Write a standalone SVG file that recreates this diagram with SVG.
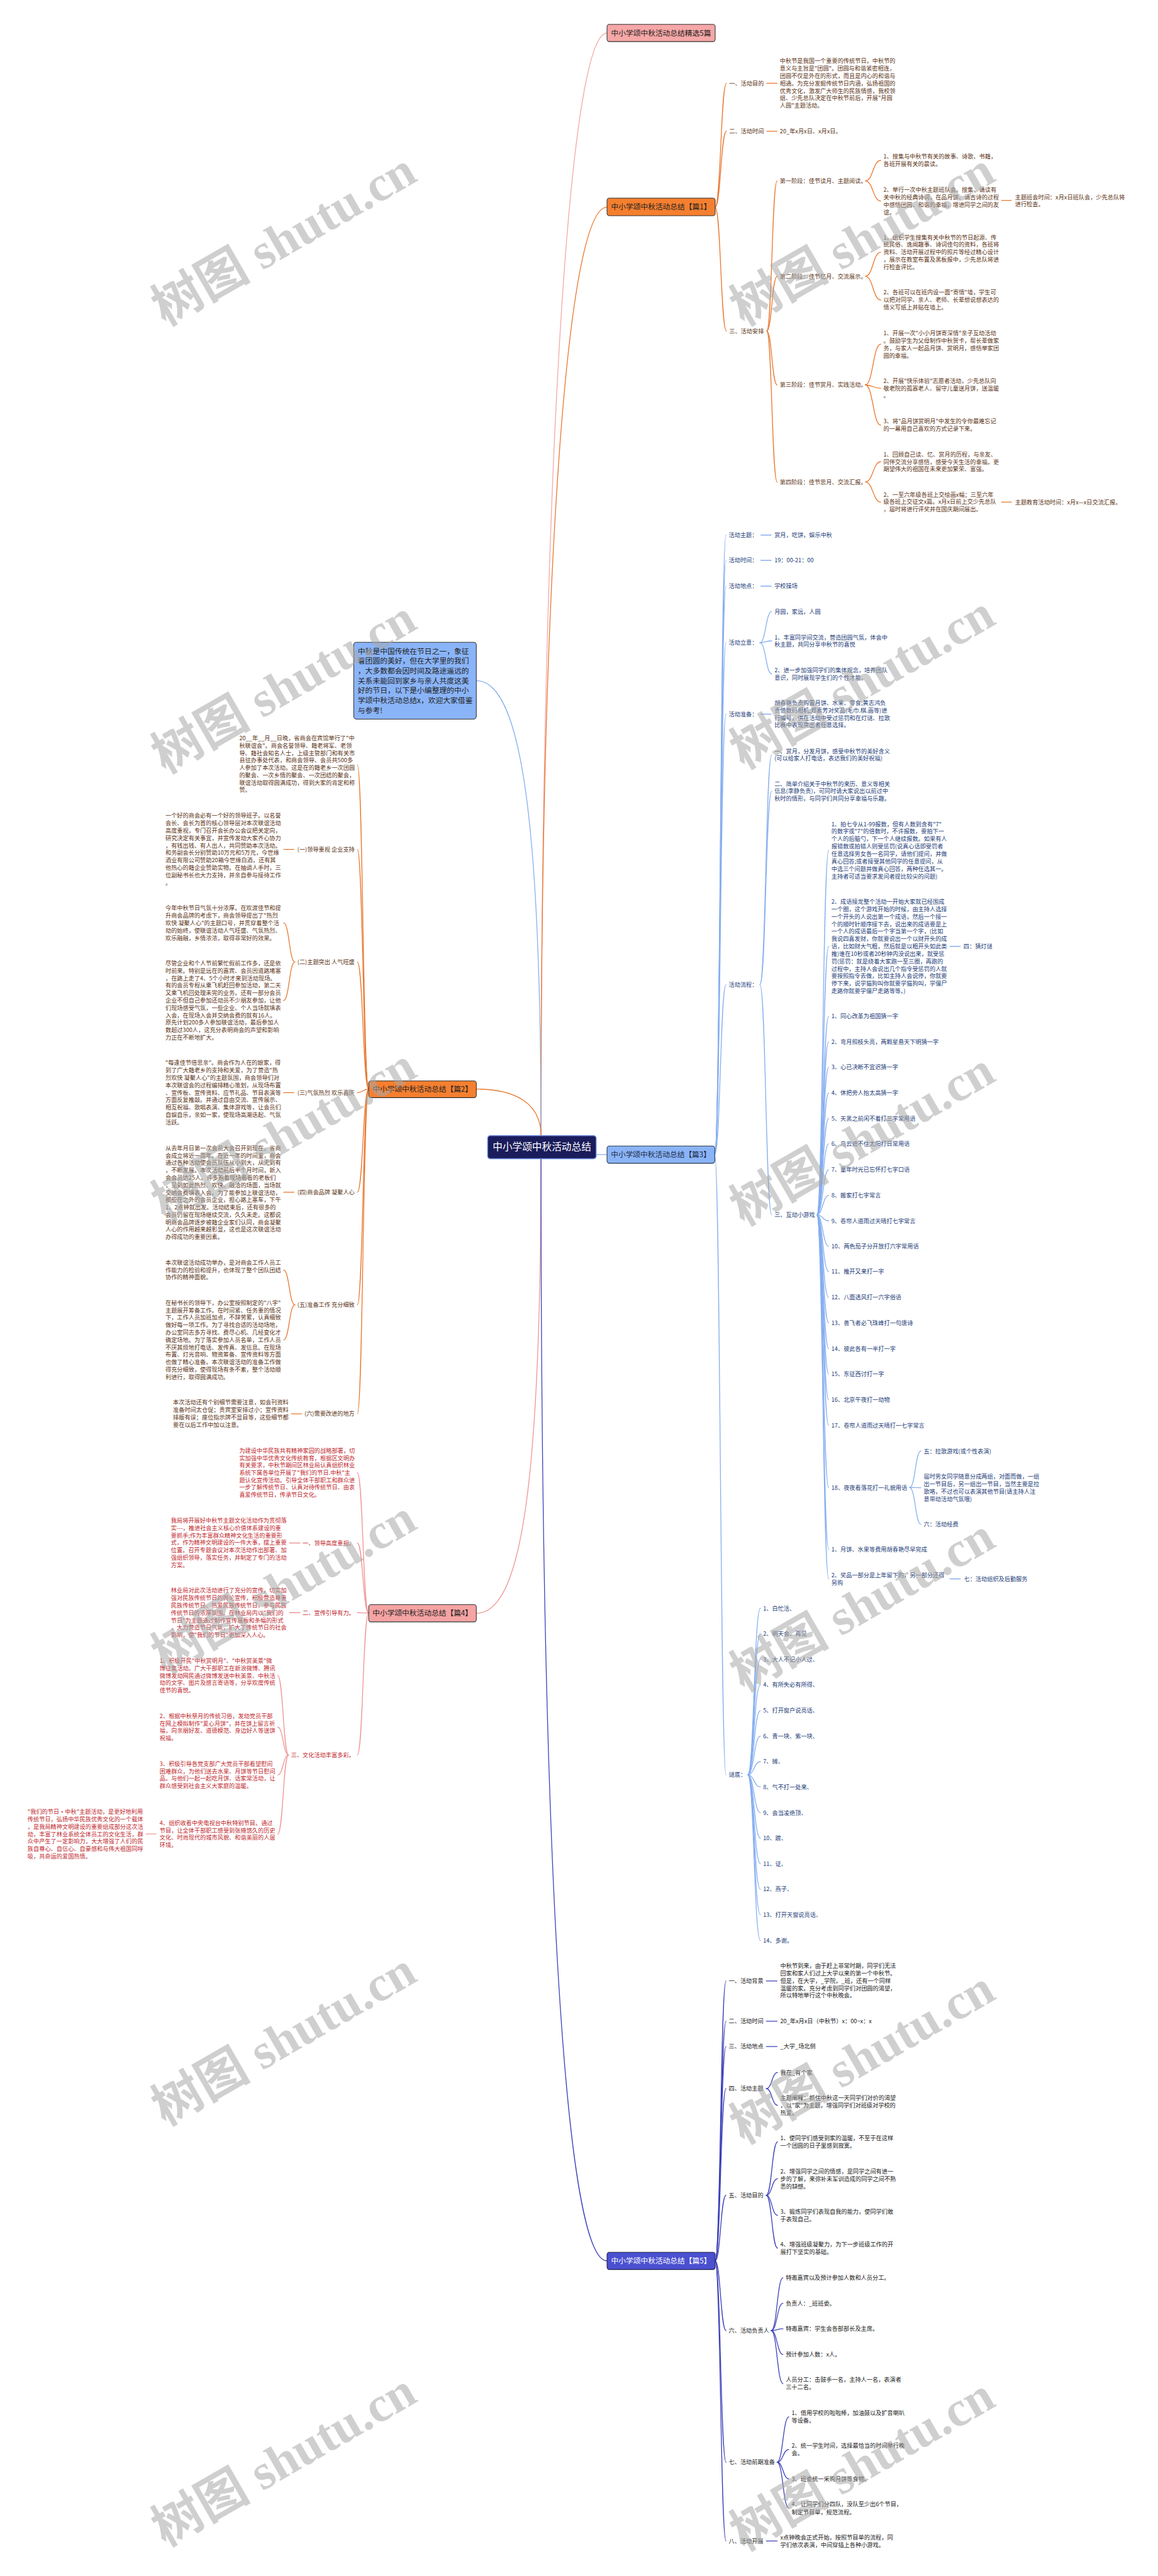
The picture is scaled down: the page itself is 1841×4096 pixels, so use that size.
<svg xmlns="http://www.w3.org/2000/svg" width="1841" height="4096" viewBox="0 0 1841 4096">
<style>
.t{font-family:"Noto Sans CJK SC","Liberation Sans",sans-serif;font-size:12.8px}
.c1{fill:#5c3416}.c3{fill:#1d3d78}.c4{fill:#c0282d}.c5{fill:#222}
.e{text-anchor:end}
.n{font-family:"Noto Sans CJK SC","Liberation Sans",sans-serif;font-size:16.3px;text-anchor:middle;fill:#222}
.w{fill:#fff}
path{fill:none;stroke-width:1.8;stroke-linecap:round}
.lo{stroke:#e8772e}.lb{stroke:#86aef0}.lp{stroke:#f19393}.ln{stroke:#3c40b8}.lk{stroke:#f4a7a7}
.wm{font-family:"Liberation Serif","Noto Sans CJK SC",serif;font-size:110px;font-weight:bold;fill:#a8a8a8;fill-opacity:0.55;text-anchor:middle}
</style>
<rect width="1841" height="4096" fill="#fff"/>
<g transform="scale(0.71914)">
<g id="connectors">
<path class="lk" stroke-width="2.6" d="M1196 2511 C1196 1200 1250 73 1342 73"/>
<path class="lo" stroke-width="2.6" d="M1196 2511 C1196 1300 1250 458 1342 458"/>
<path class="lb" stroke-width="2.6" d="M1196 2511 C1196 1800 1150 1505 1053 1505"/>
<path class="lo" stroke-width="2.6" d="M1196 2511 C1196 2440 1140 2408 1053 2408"/>
<path class="lb" stroke-width="4" d="M1318 2553 L1342 2553"/>
<path class="lp" stroke-width="2.6" d="M1196 2562 C1196 3300 1150 3567 1053 3567"/>
<path class="ln" stroke-width="2.6" d="M1196 2562 C1196 4300 1260 4999 1342 4999"/>
<!-- pian1 -->
<path class="lo" d="M1581 458 C1593.5 458 1593.5 184 1606 184"/>
<path class="lo" d="M1581 458 C1593.5 458 1593.5 290 1606 290"/>
<path class="lo" d="M1581 458 C1593.5 458 1593.5 732 1606 732"/>
<path class="lo" d="M1695 184 H1718 M1695 290 H1718"/>
<path class="lo" d="M1695 732 C1706.5 732 1706.5 400 1718 400"/>
<path class="lo" d="M1695 732 C1706.5 732 1706.5 611 1718 611"/>
<path class="lo" d="M1695 732 C1706.5 732 1706.5 851 1718 851"/>
<path class="lo" d="M1695 732 C1706.5 732 1706.5 1065.6 1718 1065.6"/>
<path class="lo" d="M1913 400 C1930 400 1930 354.6 1947 354.6"/>
<path class="lo" d="M1913 400 C1930 400 1930 444.4 1947 444.4"/>
<path class="lo" d="M1913 611 C1930 611 1930 557.7 1947 557.7"/>
<path class="lo" d="M1913 611 C1930 611 1930 663.3 1947 663.3"/>
<path class="lo" d="M1913 851 C1930 851 1930 761 1947 761"/>
<path class="lo" d="M1913 851 C1930 851 1930 858.6 1947 858.6"/>
<path class="lo" d="M1913 851 C1930 851 1930 940 1947 940"/>
<path class="lo" d="M1913 1065.6 C1930 1065.6 1930 1021 1947 1021"/>
<path class="lo" d="M1913 1065.6 C1930 1065.6 1930 1110.3 1947 1110.3"/>
<path class="lo" d="M2214 443 H2236 M2214 1110.3 H2236"/>
<!-- pian3 -->
<path class="lb" d="M1580 2553 C1592.5 2553 1592.5 1183 1605 1183"/>
<path class="lb" d="M1580 2553 C1592.5 2553 1592.5 1239 1605 1239"/>
<path class="lb" d="M1580 2553 C1592.5 2553 1592.5 1296 1605 1296"/>
<path class="lb" d="M1580 2553 C1592.5 2553 1592.5 1421 1605 1421"/>
<path class="lb" d="M1580 2553 C1592.5 2553 1592.5 1579 1605 1579"/>
<path class="lb" d="M1580 2553 C1592.5 2553 1592.5 2177 1605 2177"/>
<path class="lb" d="M1580 2553 C1592.5 2553 1592.5 3924 1605 3924"/>
<path class="lb" d="M1682 1183 H1705 M1682 1239 H1705 M1682 1296 H1705 M1682 1579 H1705"/>
<path class="lb" d="M1680 1421 C1693 1421 1693 1352 1706 1352"/>
<path class="lb" d="M1680 1421 C1693 1421 1693 1417 1706 1417"/>
<path class="lb" d="M1680 1421 C1693 1421 1693 1490 1706 1490"/>
<path class="lb" d="M1680 2177 C1693 2177 1693 1669 1706 1669"/>
<path class="lb" d="M1680 2177 C1693 2177 1693 1749.5 1706 1749.5"/>
<path class="lb" d="M1680 2177 C1693 2177 1693 2686 1706 2686"/>
<path class="lb" d="M1806 2686 C1819 2686 1819 1880 1832 1880"/>
<path class="lb" d="M1806 2686 C1819 2686 1819 2092.4 1832 2092.4"/>
<path class="lb" d="M1806 2686 C1819 2686 1819 2247.4 1832 2247.4"/>
<path class="lb" d="M1806 2686 C1819 2686 1819 2303.6 1832 2303.6"/>
<path class="lb" d="M1806 2686 C1819 2686 1819 2359.8 1832 2359.8"/>
<path class="lb" d="M1806 2686 C1819 2686 1819 2416.8 1832 2416.8"/>
<path class="lb" d="M1806 2686 C1819 2686 1819 2473 1832 2473"/>
<path class="lb" d="M1806 2686 C1819 2686 1819 2529.2 1832 2529.2"/>
<path class="lb" d="M1806 2686 C1819 2686 1819 2586.2 1832 2586.2"/>
<path class="lb" d="M1806 2686 C1819 2686 1819 2643.2 1832 2643.2"/>
<path class="lb" d="M1806 2686 C1819 2686 1819 2699.4 1832 2699.4"/>
<path class="lb" d="M1806 2686 C1819 2686 1819 2755.6 1832 2755.6"/>
<path class="lb" d="M1806 2686 C1819 2686 1819 2811.8 1832 2811.8"/>
<path class="lb" d="M1806 2686 C1819 2686 1819 2868.8 1832 2868.8"/>
<path class="lb" d="M1806 2686 C1819 2686 1819 2925 1832 2925"/>
<path class="lb" d="M1806 2686 C1819 2686 1819 2982 1832 2982"/>
<path class="lb" d="M1806 2686 C1819 2686 1819 3038.2 1832 3038.2"/>
<path class="lb" d="M1806 2686 C1819 2686 1819 3095.2 1832 3095.2"/>
<path class="lb" d="M1806 2686 C1819 2686 1819 3151.4 1832 3151.4"/>
<path class="lb" d="M1806 2686 C1819 2686 1819 3289 1832 3289"/>
<path class="lb" d="M1806 2686 C1819 2686 1819 3426.6 1832 3426.6"/>
<path class="lb" d="M1806 2686 C1819 2686 1819 3491 1832 3491"/>
<path class="lb" d="M2100 2092.4 H2123 M2100 3491 H2123"/>
<path class="lb" d="M2011 3289 C2023.5 3289 2023.5 3208.3 2036 3208.3"/>
<path class="lb" d="M2011 3289 C2023.5 3289 2023.5 3289.4 2036 3289.4"/>
<path class="lb" d="M2011 3289 C2023.5 3289 2023.5 3370.4 2036 3370.4"/>
<path class="lb" d="M1653 3924 C1667 3924 1667 3556 1681 3556"/>
<path class="lb" d="M1653 3924 C1667 3924 1667 3612.3 1681 3612.3"/>
<path class="lb" d="M1653 3924 C1667 3924 1667 3669.2 1681 3669.2"/>
<path class="lb" d="M1653 3924 C1667 3924 1667 3725.5 1681 3725.5"/>
<path class="lb" d="M1653 3924 C1667 3924 1667 3782.4 1681 3782.4"/>
<path class="lb" d="M1653 3924 C1667 3924 1667 3838.6 1681 3838.6"/>
<path class="lb" d="M1653 3924 C1667 3924 1667 3894.9 1681 3894.9"/>
<path class="lb" d="M1653 3924 C1667 3924 1667 3951.1 1681 3951.1"/>
<path class="lb" d="M1653 3924 C1667 3924 1667 4008 1681 4008"/>
<path class="lb" d="M1653 3924 C1667 3924 1667 4064.3 1681 4064.3"/>
<path class="lb" d="M1653 3924 C1667 3924 1667 4120.5 1681 4120.5"/>
<path class="lb" d="M1653 3924 C1667 3924 1667 4177.5 1681 4177.5"/>
<path class="lb" d="M1653 3924 C1667 3924 1667 4233.7 1681 4233.7"/>
<path class="lb" d="M1653 3924 C1667 3924 1667 4290.7 1681 4290.7"/>
<!-- pian5 -->
<path class="ln" d="M1581 4999 C1593 4999 1593 4380 1605 4380"/>
<path class="ln" d="M1581 4999 C1593 4999 1593 4469 1605 4469"/>
<path class="ln" d="M1581 4999 C1593 4999 1593 4525 1605 4525"/>
<path class="ln" d="M1581 4999 C1593 4999 1593 4618 1605 4618"/>
<path class="ln" d="M1581 4999 C1593 4999 1593 4854 1605 4854"/>
<path class="ln" d="M1581 4999 C1593 4999 1593 5153 1605 5153"/>
<path class="ln" d="M1581 4999 C1593 4999 1593 5444 1605 5444"/>
<path class="ln" d="M1581 4999 C1593 4999 1593 5618.3 1605 5618.3"/>
<path class="ln" d="M1694 4380 H1718 M1694 4469 H1718 M1694 4525 H1718 M1694 5618.3 H1718"/>
<path class="ln" d="M1694 4618 C1706.5 4618 1706.5 4582.4 1719 4582.4"/>
<path class="ln" d="M1694 4618 C1706.5 4618 1706.5 4654.9 1719 4654.9"/>
<path class="ln" d="M1694 4854 C1706.5 4854 1706.5 4735.7 1719 4735.7"/>
<path class="ln" d="M1694 4854 C1706.5 4854 1706.5 4817.3 1719 4817.3"/>
<path class="ln" d="M1694 4854 C1706.5 4854 1706.5 4898.2 1719 4898.2"/>
<path class="ln" d="M1694 4854 C1706.5 4854 1706.5 4970.7 1719 4970.7"/>
<path class="ln" d="M1705 5153 C1718 5153 1718 5036.3 1731 5036.3"/>
<path class="ln" d="M1705 5153 C1718 5153 1718 5092.7 1731 5092.7"/>
<path class="ln" d="M1705 5153 C1718 5153 1718 5149.1 1731 5149.1"/>
<path class="ln" d="M1705 5153 C1718 5153 1718 5205.6 1731 5205.6"/>
<path class="ln" d="M1705 5153 C1718 5153 1718 5270.4 1731 5270.4"/>
<path class="ln" d="M1718 5444 C1731 5444 1731 5343.7 1744 5343.7"/>
<path class="ln" d="M1718 5444 C1731 5444 1731 5416 1744 5416"/>
<path class="ln" d="M1718 5444 C1731 5444 1731 5481 1744 5481"/>
<path class="ln" d="M1718 5444 C1731 5444 1731 5545.8 1744 5545.8"/>
<!-- pian2 -->
<path class="lo" d="M815 2408 C802.5 2408 802.5 1691 790 1691"/>
<path class="lo" d="M815 2408 C802.5 2408 802.5 1878 790 1878"/>
<path class="lo" d="M815 2408 C802.5 2408 802.5 2127 790 2127"/>
<path class="lo" d="M815 2408 C802.5 2408 802.5 2416 790 2416"/>
<path class="lo" d="M815 2408 C802.5 2408 802.5 2636 790 2636"/>
<path class="lo" d="M815 2408 C802.5 2408 802.5 2885 790 2885"/>
<path class="lo" d="M815 2408 C802.5 2408 802.5 3126 790 3126"/>
<path class="lo" d="M650 1878 H627 M650 2416 H627 M650 2636 H627 M667 3126 H644"/>
<path class="lo" d="M652 2127 C639.5 2127 639.5 2040.5 627 2040.5"/>
<path class="lo" d="M652 2127 C639.5 2127 639.5 2212 627 2212"/>
<path class="lo" d="M652 2885 C639.5 2885 639.5 2808 627 2808"/>
<path class="lo" d="M652 2885 C639.5 2885 639.5 2962.6 627 2962.6"/>
<!-- pian4 -->
<path class="lp" d="M815 3567 C802.5 3567 802.5 3256.3 790 3256.3"/>
<path class="lp" d="M815 3567 C802.5 3567 802.5 3411.7 790 3411.7"/>
<path class="lp" d="M815 3567 C802.5 3567 802.5 3565.7 790 3565.7"/>
<path class="lp" d="M815 3567 C802.5 3567 802.5 3880.4 790 3880.4"/>
<path class="lp" d="M663 3411.7 H640 M663 3565.7 H640 M345 4055 H323"/>
<path class="lp" d="M638 3880.4 C626 3880.4 626 3705 614 3705"/>
<path class="lp" d="M638 3880.4 C626 3880.4 626 3818.8 614 3818.8"/>
<path class="lp" d="M638 3880.4 C626 3880.4 626 3924 614 3924"/>
<path class="lp" d="M638 3880.4 C626 3880.4 626 4055 614 4055"/>
</g>

<g id="root"><rect x="1078" y="2511" width="240" height="51" rx="6" fill="#1b1c5b" stroke="#6f8fe0" stroke-width="2"/><text class="n w" x="1198" y="2544" style="font-size:21.8px;fill:#fff">中小学颂中秋活动总结</text></g>

<g id="node-jingxuan"><rect x="1342" y="54" width="239" height="38" rx="5" fill="#f6a7a7" stroke="#333" stroke-width="1.5"/><text class="n" x="1461.5" y="78.9">中小学颂中秋活动总结精选5篇</text></g>

<g id="node-pian1"><rect x="1342" y="438" width="239" height="39" rx="5" fill="#f57f2f" stroke="#333" stroke-width="1.5"/><text class="n" x="1461.5" y="463.4">中小学颂中秋活动总结【篇1】</text></g>
<g id="pian1-children" class="t c1">
<text x="1612" y="188.6">一、活动目的</text>
<text x="1724" y="139.3"><tspan x="1724">中秋节是我国一个重要的传统节日，中秋节的</tspan><tspan x="1724" dy="16.5">意义与主旨是"团圆"。团圆与和谐紧密相连，</tspan><tspan x="1724" dy="16.5">团圆不仅是外在的形式，而且是内心的和谐与</tspan><tspan x="1724" dy="16.5">相通。为充分发掘传统节日内涵，弘扬祖国的</tspan><tspan x="1724" dy="16.5">优秀文化，激发广大师生的民族情感，我校领</tspan><tspan x="1724" dy="16.5">组、少先总队决定在中秋节前后，开展"月圆</tspan><tspan x="1724" dy="16.5">人圆"主题活动。</tspan></text>
<text x="1612" y="294.6">二、活动时间</text>
<text x="1724" y="294.6">20_年x月x日、x月x日。</text>
<text x="1612" y="736.6">三、活动安排</text>
<text x="1724" y="404.6">第一阶段：佳节读月、主题阅读。</text>
<text x="1724" y="615.6">第二阶段：佳节忆月、交流展示。</text>
<text x="1724" y="855.6">第三阶段：佳节赏月、实践活动。</text>
<text x="1724" y="1070.2">第四阶段：佳节思月、交流汇报。</text>
<text x="1953" y="351.1"><tspan x="1953">1、搜集与中秋节有关的故事、诗歌、书籍，</tspan><tspan x="1953" dy="16.5">各班开展有关的晨读。</tspan></text>
<text x="1953" y="424.1"><tspan x="1953">2、举行一次中秋主题班队会。搜集、诵读有</tspan><tspan x="1953" dy="16.5">关中秋的经典诗词，在品月饼、诵古诗的过程</tspan><tspan x="1953" dy="16.5">中感悟团圆、和谐的幸福，增进同学之间的友</tspan><tspan x="1953" dy="16.5">谊。</tspan></text>
<text x="2244" y="440.2"><tspan x="2244">主题班会时间：x月x日班队会，少先总队将</tspan><tspan x="2244" dy="16.5">进行检查。</tspan></text>
<text x="1953" y="529.3"><tspan x="1953">1、组织学生搜集有关中秋节的节日起源、传</tspan><tspan x="1953" dy="16.5">统民俗、逸闻趣事、诗词佳句的资料，各班将</tspan><tspan x="1953" dy="16.5">资料、活动开展过程中的照片等经过精心设计</tspan><tspan x="1953" dy="16.5">，展示在教室布置及黑板报中，少先总队将进</tspan><tspan x="1953" dy="16.5">行检查评比。</tspan></text>
<text x="1953" y="651.4"><tspan x="1953">2、各班可以在班内设一面"寄情"墙，学生可</tspan><tspan x="1953" dy="16.5">以把对同学、亲人、老师、长辈想说想表达的</tspan><tspan x="1953" dy="16.5">情义写纸上并贴在墙上。</tspan></text>
<text x="1953" y="741.2"><tspan x="1953">1、开展一次"小小月饼寄深情"亲子互动活动</tspan><tspan x="1953" dy="16.5">。鼓励学生为父母制作中秋贺卡，帮长辈做家</tspan><tspan x="1953" dy="16.5">务，与家人一起品月饼、赏明月，感悟举家团</tspan><tspan x="1953" dy="16.5">圆的幸福。</tspan></text>
<text x="1953" y="846.4"><tspan x="1953">2、开展"快乐体验"志愿者活动，少先总队向</tspan><tspan x="1953" dy="16.5">敬老院的孤寡老人、留守儿童送月饼，送温暖</tspan><tspan x="1953" dy="16.5">。</tspan></text>
<text x="1953" y="936.2"><tspan x="1953">3、将"品月饼赏明月"中发生的令你最难忘记</tspan><tspan x="1953" dy="16.5">的一幕用自己喜欢的方式记录下来。</tspan></text>
<text x="1953" y="1009.1"><tspan x="1953">1、回顾自己读、忆、赏月的历程，与亲友、</tspan><tspan x="1953" dy="16.5">同伴交流分享感悟，感受今天生活的幸福，更</tspan><tspan x="1953" dy="16.5">期望伟大的祖国在未来更加繁荣、富强。</tspan></text>
<text x="1953" y="1097.9"><tspan x="1953">2、一至六年级各班上交绘画x幅；三至六年</tspan><tspan x="1953" dy="16.5">级各班上交征文x篇。x月x日前上交少先总队</tspan><tspan x="1953" dy="16.5">，届时将进行评奖并在国庆期间展出。</tspan></text>
<text x="2244" y="1114.9">主题教育活动时间：x月x—x日交流汇报。</text>
</g>

<g id="node-intro"><rect x="782" y="1420" width="271" height="170" rx="6" fill="#8ab4f8" stroke="#333" stroke-width="1.5"/><text style="font-family:'Noto Sans CJK SC','Liberation Sans',sans-serif;font-size:16.4px;fill:#222" x="791" y="1445.5"><tspan x="791">中秋是中国传统在节日之一，象征</tspan><tspan x="791" dy="21.8">着团圆的美好，但在大学里的我们</tspan><tspan x="791" dy="21.8">，大多数都会因时间及路途遥远的</tspan><tspan x="791" dy="21.8">关系未能回到家乡与亲人共度这美</tspan><tspan x="791" dy="21.8">好的节日，以下是小编整理的中小</tspan><tspan x="791" dy="21.8">学颂中秋活动总结x，欢迎大家借鉴</tspan><tspan x="791" dy="21.8">与参考!</tspan></text></g>

<g id="node-pian2"><rect x="815" y="2390" width="238" height="37" rx="5" fill="#f57f2f" stroke="#333" stroke-width="1.5"/><text class="n" x="934" y="2414">中小学颂中秋活动总结【篇2】</text></g>
<g id="pian2-children" class="t c1">
<text x="529" y="1636.6"><tspan x="529">20__年__月__日晚，省商会在宾馆举行了"中</tspan><tspan x="529" dy="16.4">秋联谊会"。商会名誉领导、籍老将军、老领</tspan><tspan x="529" dy="16.4">导、籍社会知名人士，上级主管部门和有关市</tspan><tspan x="529" dy="16.4">县驻办事处代表，和商会领导、会员共500多</tspan><tspan x="529" dy="16.4">人参加了本次活动。这是在的籍老乡一次团圆</tspan><tspan x="529" dy="16.4">的聚会、一次乡情的聚会、一次团结的聚会，</tspan><tspan x="529" dy="16.4">联谊活动取得圆满成功，得到大家的肯定和称</tspan><tspan x="529" dy="16.4">赞。</tspan></text>
<text class="e" x="784" y="1882.6">(一)领导重视 企业支持</text>
<text x="365.7" y="1808.3"><tspan x="365.7">一个好的商会必有一个好的领导班子。以名誉</tspan><tspan x="365.7" dy="16.4">会长、会长为首的核心领导层对本次联谊活动</tspan><tspan x="365.7" dy="16.4">高度重视，专门召开会长办公会议把关定向，</tspan><tspan x="365.7" dy="16.4">研究决定有关事宜，并宣传发动大家齐心协力</tspan><tspan x="365.7" dy="16.4">，有钱出钱、有人出人，共同赞助本次活动。</tspan><tspan x="365.7" dy="16.4">和务副会长分别赞助10万元和5万元，今世缘</tspan><tspan x="365.7" dy="16.4">酒业有限公司赞助20箱今世缘白酒，还有其</tspan><tspan x="365.7" dy="16.4">他热心的籍企业赞助实物。在抽调人手时，三</tspan><tspan x="365.7" dy="16.4">位副秘书长也大力支持，并亲自参与接待工作</tspan><tspan x="365.7" dy="16.4">。</tspan></text>
<text class="e" x="784" y="2131.6">(二)主题突出 人气旺盛</text>
<text x="365.7" y="2012.6"><tspan x="365.7">今年中秋节日气氛十分浓厚。在欢渡佳节和提</tspan><tspan x="365.7" dy="16.4">升商会品牌的考虑下，商会领导提出了"热烈</tspan><tspan x="365.7" dy="16.4">欢快 凝聚人心"的主题口号，并贯穿着整个活</tspan><tspan x="365.7" dy="16.4">动的始终，使联谊活动人气旺盛、气氛热烈、</tspan><tspan x="365.7" dy="16.4">欢乐融融，乡情浓浓，取得非常好的效果。</tspan></text>
<text x="365.7" y="2134.6"><tspan x="365.7">尽管企业和个人节前繁忙假前工作多，还是依</tspan><tspan x="365.7" dy="16.4">时前来。特别是远在的嘉宾、会员因道路堵塞</tspan><tspan x="365.7" dy="16.4">，在路上走了4、5个小时才来到活动现场。</tspan><tspan x="365.7" dy="16.4">有的会员专程从乘飞机赶回参加活动，第二天</tspan><tspan x="365.7" dy="16.4">又乘飞机回处理未完的业务。还有一部分会员</tspan><tspan x="365.7" dy="16.4">企业不但自己参加还动员不少朋友参加，让他</tspan><tspan x="365.7" dy="16.4">们现场感受气氛，一些企业、个人当场就填表</tspan><tspan x="365.7" dy="16.4">入会，在现场入会并交纳会费的就有16人。</tspan><tspan x="365.7" dy="16.4">原先计划200多人参加联谊活动，最后参加人</tspan><tspan x="365.7" dy="16.4">数超过300人，这充分表明商会的声望和影响</tspan><tspan x="365.7" dy="16.4">力正在不断地扩大。</tspan></text>
<text class="e" x="784" y="2420.6">(三)气氛热烈 欢乐喜庆</text>
<text x="365.7" y="2354.9"><tspan x="365.7">"每逢佳节倍思亲"。商会作为人在的娘家，得</tspan><tspan x="365.7" dy="16.4">到了广大籍老乡的支持和关爱，为了营造"热</tspan><tspan x="365.7" dy="16.4">烈欢快 凝聚人心"的主题氛围，商会领导们对</tspan><tspan x="365.7" dy="16.4">本次联谊会的过程编排精心策划，从现场布置</tspan><tspan x="365.7" dy="16.4">、宣传板、宣传资料、应节礼品、节目表演等</tspan><tspan x="365.7" dy="16.4">方面反复推敲。并通过自由交流、宣传展示、</tspan><tspan x="365.7" dy="16.4">相互祝福、歌唱表演、集体游戏等，让会员们</tspan><tspan x="365.7" dy="16.4">自娱自乐，亲如一家，使现场高潮迭起、气氛</tspan><tspan x="365.7" dy="16.4">活跃。</tspan></text>
<text class="e" x="784" y="2640.6">(四)商会品牌 凝聚人心</text>
<text x="365.7" y="2543"><tspan x="365.7">从去年月日第一次会员大会召开到现在，省商</tspan><tspan x="365.7" dy="16.4">会成立将近一周年。在近一年的时间里，商会</tspan><tspan x="365.7" dy="16.4">通过各种活动使会员队伍从小到大，从无到有</tspan><tspan x="365.7" dy="16.4">，不断发展。本次活动前后半个月时间，新入</tspan><tspan x="365.7" dy="16.4">会会员达25人。许多抱着现场看看的老板们</tspan><tspan x="365.7" dy="16.4">，见到如此热烈、欢快、融洽的场面，当场就</tspan><tspan x="365.7" dy="16.4">交纳会费填表入会。为了能参加上联谊活动，</tspan><tspan x="365.7" dy="16.4">那些在之外的会员企业，担心路上塞车，下午</tspan><tspan x="365.7" dy="16.4">1、2点钟就出发。活动结束后，还有很多的</tspan><tspan x="365.7" dy="16.4">会员仍留在现场继续交流，久久未走。这都说</tspan><tspan x="365.7" dy="16.4">明商会品牌逐步被籍企业家们认同，商会凝聚</tspan><tspan x="365.7" dy="16.4">人心的作用越来越彰显，这也是这次联谊活动</tspan><tspan x="365.7" dy="16.4">办得成功的重要因素。</tspan></text>
<text class="e" x="784" y="2889.6">(五)准备工作 充分细致</text>
<text x="365.7" y="2796.1"><tspan x="365.7">本次联谊活动成功举办，是对商会工作人员工</tspan><tspan x="365.7" dy="16.4">作能力的检验和提升，也体现了整个团队团结</tspan><tspan x="365.7" dy="16.4">协作的精神面貌。</tspan></text>
<text x="365.7" y="2885.2"><tspan x="365.7">在秘书长的领导下，办公室按照制定的"八字"</tspan><tspan x="365.7" dy="16.4">主题展开筹备工作。在时间紧、任务重的情况</tspan><tspan x="365.7" dy="16.4">下，工作人员加班加点，不辞劳累，认真细致</tspan><tspan x="365.7" dy="16.4">做好每一项工作。为了寻找合适的活动场地，</tspan><tspan x="365.7" dy="16.4">办公室同志多方寻找、费尽心机、几经变化才</tspan><tspan x="365.7" dy="16.4">确定场地。为了落实参加人员名单，工作人员</tspan><tspan x="365.7" dy="16.4">不厌其烦地打电话、发传真、发信息。在现场</tspan><tspan x="365.7" dy="16.4">布置、灯光音响、物资筹备、宣传资料等方面</tspan><tspan x="365.7" dy="16.4">也做了精心准备。本次联谊活动的准备工作做</tspan><tspan x="365.7" dy="16.4">得充分细致，使得现场有条不紊，整个活动顺</tspan><tspan x="365.7" dy="16.4">利进行，取得圆满成功。</tspan></text>
<text class="e" x="784" y="3130.4">(六)需要改进的地方</text>
<text x="382.5" y="3105.6"><tspan x="382.5">本次活动还有个别细节需要注意，如会刊资料</tspan><tspan x="382.5" dy="16.4">准备时间太仓促；贵宾室安排过小；宣传资料</tspan><tspan x="382.5" dy="16.4">排版有误；座位指示牌不显目等，这些细节都</tspan><tspan x="382.5" dy="16.4">要在以后工作中加以注意。</tspan></text>
</g>

<g id="node-pian3"><rect x="1342" y="2534" width="238" height="38" rx="5" fill="#8ab4f8" stroke="#22344d" stroke-width="1.5"/><text class="n" x="1461" y="2558.7" style="fill:#1a2a44">中小学颂中秋活动总结【篇3】</text></g>
<g id="pian3-children" class="t c3">
<text x="1611" y="1187.6">活动主题：</text><text x="1712" y="1187.6">赏月，吃饼，娱乐中秋</text>
<text x="1611" y="1243.6">活动时间：</text><text x="1712" y="1243.6">19：00-21：00</text>
<text x="1611" y="1300.6">活动地点：</text><text x="1712" y="1300.6">学校操场</text>
<text x="1611" y="1425.6">活动立意：</text>
<text x="1712" y="1356.6">月圆，家远，人圆</text>
<text x="1712" y="1413.6"><tspan x="1712">1、丰富同学间交流，营造团圆气氛，体会中</tspan><tspan x="1712" dy="16.5">秋主题，共同分享中秋节的喜悦</tspan></text>
<text x="1712" y="1486.3"><tspan x="1712">2、进一步加强同学们的集体观念，培养团队</tspan><tspan x="1712" dy="16.5">意识，同时展现学生们的个性才能。</tspan></text>
<text x="1611" y="1583.6">活动准备：</text>
<text x="1712" y="1558.6"><tspan x="1712">胡春艳负责购置月饼、水果、零食;黄志鸿负</tspan><tspan x="1712" dy="16.5">责借数码相机;郑素芳对奖品(毛巾.棋.画等)进</tspan><tspan x="1712" dy="16.5">行编号，供在活动中受过惩罚和在灯谜、拉歌</tspan><tspan x="1712" dy="16.5">比赛中表现突出者任意选择。</tspan></text>
<text x="1611" y="2181.6">活动流程：</text>
<text x="1712" y="1665.3"><tspan x="1712">一、赏月，分发月饼，感受中秋节的美好含义</tspan><tspan x="1712" dy="16.5">(可以给家人打电话，表达我们的美好祝福)</tspan></text>
<text x="1712" y="1737.6"><tspan x="1712">二、简单介绍关于中秋节的来历、意义等相关</tspan><tspan x="1712" dy="16.5">信息(李静负责)，可同时请大家说出以前过中</tspan><tspan x="1712" dy="16.5">秋时的情形，与同学们共同分享幸福与乐趣。</tspan></text>
<text x="1712" y="2690.6">三、互动小游戏</text>
<text x="1838" y="1826.6"><tspan x="1838">1、拍七令从1-99报数，但有人数到含有"7"</tspan><tspan x="1838" dy="16.5">的数字或"7"的倍数时，不许报数，要拍下一</tspan><tspan x="1838" dy="16.5">个人的后脑勺，下一个人继续报数。如果有人</tspan><tspan x="1838" dy="16.5">报错数或拍错人则受惩罚(说真心话即受罚者</tspan><tspan x="1838" dy="16.5">任意选择男女各一名同学，请他们提问，并做</tspan><tspan x="1838" dy="16.5">真心回答;或者接受其他同学的任意提问，从</tspan><tspan x="1838" dy="16.5">中选三个问题并做真心回答，两种任选其一。</tspan><tspan x="1838" dy="16.5">主持者可适当要求发问者提比较尖的问题)</tspan></text>
<text x="1838" y="1998.2"><tspan x="1838">2、成语接龙整个活动一开始大家就已经围成</tspan><tspan x="1838" dy="16.47">一个圈，这个游戏开始的时候，由主持人选择</tspan><tspan x="1838" dy="16.47">一个开头的人说出第一个成语，然后一个接一</tspan><tspan x="1838" dy="16.47">个的顺时针顺序接下去，说出来的成语要是上</tspan><tspan x="1838" dy="16.47">一个人的成语最后一个字当第一个字，(比如</tspan><tspan x="1838" dy="16.47">我说四喜发财，你就要说出一个以财开头的成</tspan><tspan x="1838" dy="16.47">语，比如财大气粗，然后就是以粗开头如此类</tspan><tspan x="1838" dy="16.47">推)谁在10秒或者20秒钟内没说出来，就受惩</tspan><tspan x="1838" dy="16.47">罚(惩罚：就是绕着大家跑一至三圈，再跑的</tspan><tspan x="1838" dy="16.47">过程中，主持人会说出几个指令受惩罚的人就</tspan><tspan x="1838" dy="16.47">要按照指令去做，比如主持人会说停，你就要</tspan><tspan x="1838" dy="16.47">停下来，说学猫狗叫你就要学猫狗叫，学僵尸</tspan><tspan x="1838" dy="16.47">走路你就要学僵尸走路等等。)</tspan></text>
<text x="2130" y="2097">四：猜灯谜</text>
<text x="1838" y="2252">1、同心改革为祖国猜一字</text>
<text x="1838" y="2308.2">2、弯月照枝头亮，两颗星悬天下明猜一字</text>
<text x="1838" y="2364.4">3、心已决断不宜迟猜一字</text>
<text x="1838" y="2421.4">4、休把旁人抬太高猜一字</text>
<text x="1838" y="2477.6">5、天黑之前闲不着打三字常用语</text>
<text x="1838" y="2533.8">6、乌云遮不住太阳打日常用语</text>
<text x="1838" y="2590.8">7、童年时光已忘怀打七字口语</text>
<text x="1838" y="2647.8">8、搬家打七字常言</text>
<text x="1838" y="2704">9、卷帘人道雨过天晴打七字常言</text>
<text x="1838" y="2760.2">10、两色茄子分开放打六字常用语</text>
<text x="1838" y="2816.4">11、推开又来打一字</text>
<text x="1838" y="2873.4">12、八面透风打一六字俗语</text>
<text x="1838" y="2929.6">13、善飞者必飞珠峰打一句唐诗</text>
<text x="1838" y="2986.6">14、彼此各有一半打一字</text>
<text x="1838" y="3042.8">15、东征西讨打一字</text>
<text x="1838" y="3099.8">16、北京午夜打一动物</text>
<text x="1838" y="3156">17、卷帘人道雨过天晴打一七字常言</text>
<text x="1838" y="3293.6">18、夜夜看落花打一礼貌用语</text>
<text x="2042" y="3212.9">五：拉歌游戏(或个性表演)</text>
<text x="2042" y="3269.2"><tspan x="2042">届时男女同学随意分成两组，对面而做，一组</tspan><tspan x="2042" dy="16.5">出一节目后，另一组出一节目，当然主要是拉</tspan><tspan x="2042" dy="16.5">歌咯，不过也可以表演其他节目(请主持人注</tspan><tspan x="2042" dy="16.5">意带动活动气氛哦)</tspan></text>
<text x="2042" y="3375">六：活动经费</text>
<text x="1838" y="3431.2">1、月饼、水果等费用胡春艳尽早完成</text>
<text x="1838" y="3487.4"><tspan x="1838">2、奖品一部分是上年留下的，另一部分还得</tspan><tspan x="1838" dy="16.5">另购</tspan></text>
<text x="2131" y="3495.6">七：活动组织及后勤服务</text>
<text x="1611" y="3928.6">谜底：</text>
<text x="1687" y="3560.6">1、白忙活、</text>
<text x="1687" y="3616.9">2、明天会、再见</text>
<text x="1687" y="3673.8">3、大人不记小人过、</text>
<text x="1687" y="3730.1">4、有所失必有所得、</text>
<text x="1687" y="3787">5、打开窗户说亮话、</text>
<text x="1687" y="3843.2">6、青一块、紫一块、</text>
<text x="1687" y="3899.5">7、摊、</text>
<text x="1687" y="3955.7">8、气不打一处来、</text>
<text x="1687" y="4012.6">9、会当凌绝顶、</text>
<text x="1687" y="4068.9">10、踱、</text>
<text x="1687" y="4125.1">11、证、</text>
<text x="1687" y="4182.1">12、燕子、</text>
<text x="1687" y="4238.3">13、打开天窗说亮话、</text>
<text x="1687" y="4295.3">14、多谢。</text>
</g>

<g id="node-pian4"><rect x="815" y="3548" width="238" height="38" rx="5" fill="#f5a3a3" stroke="#333" stroke-width="1.5"/><text class="n" x="934" y="3572.7">中小学颂中秋活动总结【篇4】</text></g>
<g id="pian4-children" class="t c4">
<text x="529" y="3212"><tspan x="529">为建设中华民族共有精神家园的战略部署，切</tspan><tspan x="529" dy="16.3">实加强中华优秀文化传统教育，根据区文明办</tspan><tspan x="529" dy="16.3">有关要求，中秋节期间区林业局认真组织林业</tspan><tspan x="529" dy="16.3">系统下属各单位开展了"我们的节日.中秋"主</tspan><tspan x="529" dy="16.3">题认化宣传活动。引导全体干部职工和群众进</tspan><tspan x="529" dy="16.3">一步了解传统节日、认真对待传统节日、由衷</tspan><tspan x="529" dy="16.3">喜爱传统节日，传承节日文化。</tspan></text>
<text class="e" x="784" y="3416.3">一、领导高度重视。</text>
<text x="378" y="3366.6"><tspan x="378">我局将开展好中秋节主题文化活动作为贯彻落</tspan><tspan x="378" dy="16.4">实---，推进社会主义核心价值体系建设的重</tspan><tspan x="378" dy="16.4">要抓手;作为丰富群众精神文化生活的重要形</tspan><tspan x="378" dy="16.4">式，作为精神文明建设的一件大事，摆上重要</tspan><tspan x="378" dy="16.4">位置。召开专题会议对本次活动作出部署、加</tspan><tspan x="378" dy="16.4">强组织领导，落实任务，并制定了专门的活动</tspan><tspan x="378" dy="16.4">方案。</tspan></text>
<text class="e" x="784" y="3570.3">二、宣传引导有力。</text>
<text x="378" y="3521.4"><tspan x="378">林业局对此次活动进行了充分的宣传，切实加</tspan><tspan x="378" dy="16.4">强对民族传统节日的舆论宣传，积极营造尊重</tspan><tspan x="378" dy="16.4">民族传统节日、热爱民族传统节日、参与民族</tspan><tspan x="378" dy="16.4">传统节日的浓厚氛围。在林业局内以"我们的</tspan><tspan x="378" dy="16.4">节日"为主题通过制作宣传展板和条幅的形式</tspan><tspan x="378" dy="16.4">，大力营造节日气氛，扩大了传统节日的社会</tspan><tspan x="378" dy="16.4">影响，使"我们的节日"更加深入人心。</tspan></text>
<text class="e" x="784" y="3885">三、文化活动丰富多彩。</text>
<text x="353" y="3676.7"><tspan x="353">1、积极开民"中秋赏明月"、"中秋赏美景"微</tspan><tspan x="353" dy="16.4">博征集活动。广大干部职工在新浪微博、腾讯</tspan><tspan x="353" dy="16.4">微博发动网民通过微博发送中秋美景、中秋活</tspan><tspan x="353" dy="16.4">动的文字、图片及感言寄语等，分享欢度传统</tspan><tspan x="353" dy="16.4">佳节的喜悦。</tspan></text>
<text x="353" y="3798.6"><tspan x="353">2、根据中秋祭月的传统习俗，发动党员干部</tspan><tspan x="353" dy="16.4">在网上模拟制作"爱心月饼"，并在饼上留言祈</tspan><tspan x="353" dy="16.4">福，向亲朋好友、道德模范、身边好人等送饼</tspan><tspan x="353" dy="16.4">祝福。</tspan></text>
<text x="353" y="3904.4"><tspan x="353">3、积极引导各党支部广大党员干部看望慰问</tspan><tspan x="353" dy="16.4">困难群众，为他们送去水果、月饼等节日慰问</tspan><tspan x="353" dy="16.4">品。与他们一起一起吃月饼、话家常活动，让</tspan><tspan x="353" dy="16.4">群众感受到社会主义大家庭的温暖。</tspan></text>
<text x="353" y="4035.3"><tspan x="353">4、组织收看中央电视台中秋特别节目。通过</tspan><tspan x="353" dy="16.3">节目，让全体干部职工感受到张掖悠久的历史</tspan><tspan x="353" dy="16.3">文化、时尚现代的城市风貌、和谐美丽的人居</tspan><tspan x="353" dy="16.3">环境。</tspan></text>
<text x="61" y="4010.6"><tspan x="61">"我们的节日·中秋"主题活动，是更好地利用</tspan><tspan x="61" dy="16.4">传统节日，弘扬中华民族优秀文化的一个载体</tspan><tspan x="61" dy="16.4">，是我局精神文明建设的重要组成部分这次活</tspan><tspan x="61" dy="16.4">动，丰富了林业系统全体员工的文化生活，群</tspan><tspan x="61" dy="16.4">众中产生了一定影响力，大大增强了人们的民</tspan><tspan x="61" dy="16.4">族自尊心、自信心、自豪感和与伟大祖国同呼</tspan><tspan x="61" dy="16.4">吸，共命运的爱国热情。</tspan></text>
</g>

<g id="node-pian5"><rect x="1342" y="4980" width="239" height="38" rx="5" fill="#4a50d0" stroke="#1a1a4a" stroke-width="1.5"/><text class="n" x="1461.5" y="5004.7" style="fill:#fff">中小学颂中秋活动总结【篇5】</text></g>
<g id="pian5-children" class="t c5">
<text x="1611" y="4384.6">一、活动背景</text>
<text x="1725" y="4351.5"><tspan x="1725">中秋节到来，由于赶上非常时期，同学们无法</tspan><tspan x="1725" dy="16.4">回家和家人们过上大学以来的第一个中秋节。</tspan><tspan x="1725" dy="16.4">但是，在大学，_学院，_班，还有一个同样</tspan><tspan x="1725" dy="16.4">温暖的家。充分考虑到同学们对团圆的渴望，</tspan><tspan x="1725" dy="16.4">所以特地举行这个中秋晚会。</tspan></text>
<text x="1611" y="4473.6">二、活动时间</text>
<text x="1725" y="4473.6">20_年x月x日（中秋节）x：00~x：x</text>
<text x="1611" y="4529.6">三、活动地点</text>
<text x="1725" y="4529.6">_大学_场北侧</text>
<text x="1611" y="4622.6">四、活动主题</text>
<text x="1725" y="4587">我在_有个家</text>
<text x="1725" y="4642.6"><tspan x="1725">主题阐释：抓住中秋这一天同学们对价的渴望</tspan><tspan x="1725" dy="16.6">，以"家"为主题，增强同学们对班级对学校的</tspan><tspan x="1725" dy="16.6">热爱。</tspan></text>
<text x="1611" y="4858.6">五、活动目的</text>
<text x="1725" y="4731.9"><tspan x="1725">1、使同学们感受到家的温暖，不至于在这样</tspan><tspan x="1725" dy="16.8">一个团圆的日子里感到寂寞。</tspan></text>
<text x="1725" y="4805.1"><tspan x="1725">2、增强同学之间的情感，是同学之间有进一</tspan><tspan x="1725" dy="16.8">步的了解，来弥补未军训造成的同学之间不熟</tspan><tspan x="1725" dy="16.8">悉的缺憾。</tspan></text>
<text x="1725" y="4894.4"><tspan x="1725">3、锻炼同学们表现自我的能力，使同学们敢</tspan><tspan x="1725" dy="16.8">于表现自己。</tspan></text>
<text x="1725" y="4966.9"><tspan x="1725">4、增强班级凝聚力，为下一步班级工作的开</tspan><tspan x="1725" dy="16.8">展打下坚实的基础。</tspan></text>
<text x="1611" y="5157.6">六、活动负责人</text>
<text x="1737" y="5040.9">特邀嘉宾以及预计参加人数和人员分工。</text>
<text x="1737" y="5097.3">负责人：_班班委。</text>
<text x="1737" y="5153.7">特邀嘉宾：学生会各部部长及主席。</text>
<text x="1737" y="5210.2">预计参加人数：x人。</text>
<text x="1737" y="5266.6"><tspan x="1737">人员分工：击鼓手一名，主持人一名，表演者</tspan><tspan x="1737" dy="16.8">三十二名。</tspan></text>
<text x="1611" y="5448.6">七、活动前期准备</text>
<text x="1750" y="5339.9"><tspan x="1750">1、借用学校的啦啦棒，加油鼓以及扩音喇叭</tspan><tspan x="1750" dy="16.8">等设备。</tspan></text>
<text x="1750" y="5412.3"><tspan x="1750">2、统一学生时间，选择最恰当的时间举行晚</tspan><tspan x="1750" dy="16.8">会。</tspan></text>
<text x="1750" y="5485.6">3、班委统一采购月饼等食物。</text>
<text x="1750" y="5542"><tspan x="1750">4、让同学们分四队，没队至少出6个节目，</tspan><tspan x="1750" dy="16.8">制定节目单，规范流程。</tspan></text>
<text x="1611" y="5622.9">八、活动开展</text>
<text x="1725" y="5614.5"><tspan x="1725">x点钟晚会正式开始，按照节目单的流程，同</tspan><tspan x="1725" dy="16.8">学们依次表演，中间穿插上各种小游戏。</tspan></text>
</g>

<g id="watermarks" class="wm">
<text transform="translate(646 560) rotate(-30)">树图 shutu.cn</text>
<text transform="translate(1925 560) rotate(-30)">树图 shutu.cn</text>
<text transform="translate(646 1550) rotate(-30)">树图 shutu.cn</text>
<text transform="translate(1925 1540) rotate(-30)">树图 shutu.cn</text>
<text transform="translate(646 2540) rotate(-30)">树图 shutu.cn</text>
<text transform="translate(1925 2550) rotate(-30)">树图 shutu.cn</text>
<text transform="translate(646 3540) rotate(-30)">树图 shutu.cn</text>
<text transform="translate(1925 3580) rotate(-30)">树图 shutu.cn</text>
<text transform="translate(646 4540) rotate(-30)">树图 shutu.cn</text>
<text transform="translate(1925 4580) rotate(-30)">树图 shutu.cn</text>
<text transform="translate(646 5470) rotate(-30)">树图 shutu.cn</text>
<text transform="translate(1925 5480) rotate(-30)">树图 shutu.cn</text>
</g>
</g>
</svg>
